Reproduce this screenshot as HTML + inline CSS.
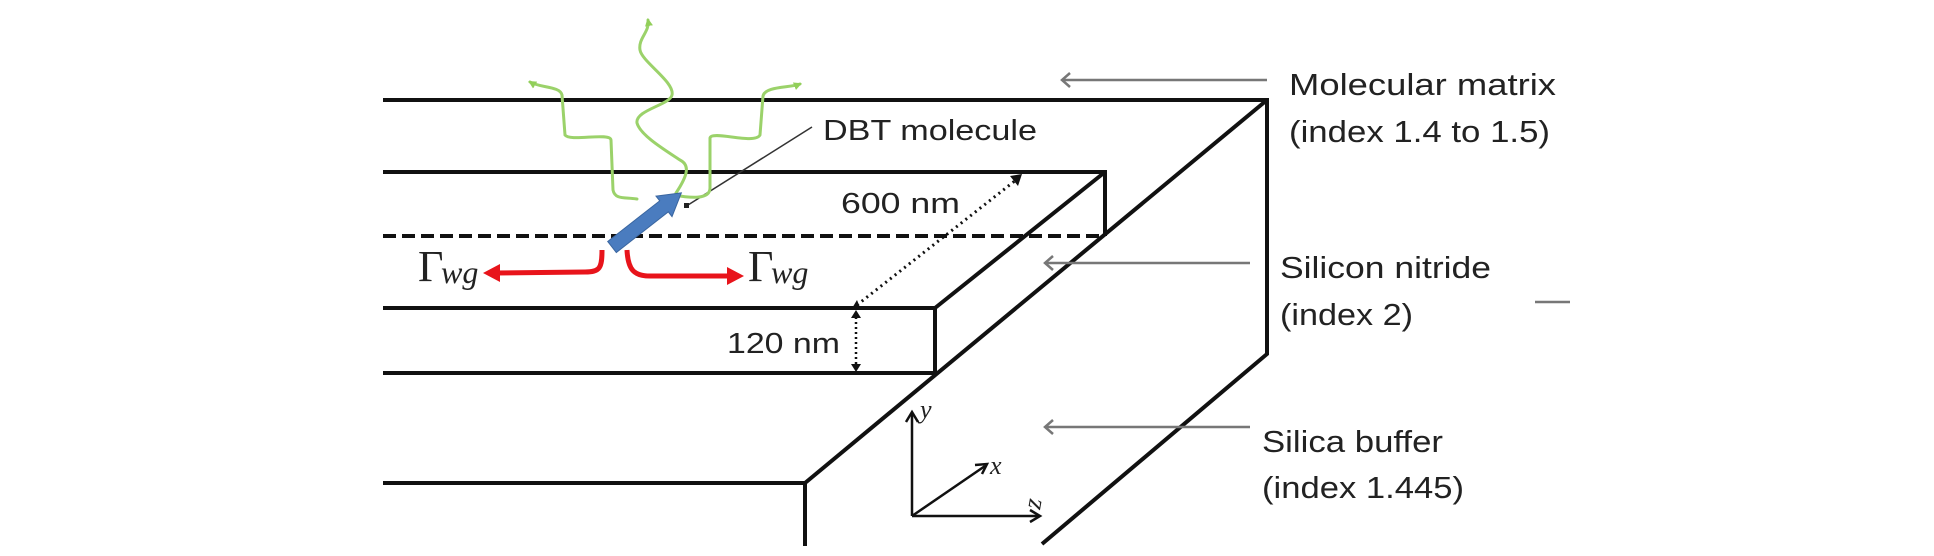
<!DOCTYPE html>
<html><head><meta charset="utf-8"><style>
html,body{margin:0;padding:0;background:#fff;}
svg{display:block;}
text{font-family:"Liberation Sans",sans-serif;fill:#222;}
</style></head><body>
<svg width="1934" height="556" viewBox="0 0 1934 556" xmlns="http://www.w3.org/2000/svg">
<defs>
<marker id="ga" markerWidth="8" markerHeight="8" refX="6" refY="4" orient="auto" markerUnits="userSpaceOnUse"><path d="M0,0 L8,4 L0,8 z" fill="#92cf5a"/></marker>
<marker id="ba" markerWidth="10" markerHeight="10" refX="5" refY="5" orient="auto" markerUnits="userSpaceOnUse"><path d="M0,0 L10,5 L0,10 z" fill="#111"/></marker>
</defs>
<g stroke="#111" stroke-width="4" fill="none" stroke-linejoin="miter">
<!-- top matrix -->
<polyline points="383,100 1267,100 1267,354 1042,544"/>
<line x1="1267" y1="100" x2="805" y2="483"/>
<polyline points="383,483 805,483 805,546"/>
<!-- waveguide -->
<polyline points="383,172 1105,172 1105,236"/>
<line x1="1105" y1="172" x2="935" y2="308"/>
<polyline points="383,308 935,308 935,373"/>
<line x1="383" y1="373" x2="935" y2="373"/>
</g>
<line x1="383" y1="236" x2="1105" y2="236" stroke="#111" stroke-width="4" stroke-dasharray="13,6"/>
<!-- dimension lines -->
<line x1="857" y1="305" x2="1016" y2="180" stroke="#111" stroke-width="3" stroke-dasharray="2,4"/>
<path d="M1010,176 L1022,174 L1018,186 z" fill="#111"/>
<path d="M851,310 L857,300 L861,310 z" fill="#111"/>
<line x1="856" y1="312" x2="856" y2="370" stroke="#111" stroke-width="2.5" stroke-dasharray="2,3"/>
<path d="M851,318 L856,310 L861,318 z M851,364 L856,372 L861,364 z" fill="#111"/>
<!-- label arrows -->
<g stroke="#777" stroke-width="2.5" fill="none">
<line x1="1267" y1="80" x2="1062" y2="80"/><polyline points="1070,73 1062,80 1070,87"/>
<line x1="1250" y1="263" x2="1045" y2="263"/><polyline points="1053,256 1045,263 1053,270"/>
<line x1="1250" y1="427" x2="1045" y2="427"/><polyline points="1053,420 1045,427 1053,434"/>
<line x1="1535" y1="302" x2="1570" y2="302"/>
</g>
<!-- DBT leader -->
<line x1="812" y1="127" x2="688" y2="205" stroke="#333" stroke-width="1.5"/>
<rect x="684" y="203" width="5" height="5" fill="#222"/>
<!-- green waves -->
<g stroke="#9bd26a" stroke-width="3" fill="none" stroke-linecap="round">
<path d="M676,193 C688,175 690,165 680,160 C665,150 640,135 637,123 C635,110 670,105 672,95 C675,82 642,62 640,50 C638,38 650,32 648,20" marker-end="url(#ga)"/>
<path d="M637,199 C625,197 615,200 613,190 L611,140 C610,132 570,142 565,135 L562,95 C560,86 540,88 530,82" marker-end="url(#ga)"/>
<path d="M674,195 C690,198 710,200 710,188 L710,138 C712,130 755,145 760,135 L763,96 C765,86 790,88 800,84" marker-end="url(#ga)"/>
</g>
<!-- blue dipole arrow -->
<g transform="translate(612,247) rotate(-38)">
<path d="M0,-7 L66,-7 L66,-13 L88,0 L66,13 L66,7 L0,7 z" fill="#4a7cbf" stroke="#3a66a0" stroke-width="1"/>
</g>
<!-- red arrows -->
<g stroke="#e8141b" stroke-width="5" fill="none">
<path d="M602,250 C602,268 600,272 585,272 L495,273"/>
<path d="M627,250 C628,270 634,276 650,276 L730,276"/>
</g>
<path d="M483,273 L500,264 L500,282 z" fill="#e8141b"/>
<path d="M744,276 L727,267 L727,285 z" fill="#e8141b"/>
<!-- Gamma labels -->
<text x="418" y="281" style="font-family:'Liberation Serif',serif;font-size:44px;fill:#222">Γ</text>
<text x="441" y="283" style="font-family:'Liberation Serif',serif;font-size:32px;font-style:italic;fill:#222">wg</text>
<text x="748" y="281" style="font-family:'Liberation Serif',serif;font-size:44px;fill:#222">Γ</text>
<text x="771" y="283" style="font-family:'Liberation Serif',serif;font-size:32px;font-style:italic;fill:#222">wg</text>
<!-- text labels -->
<text x="823" y="140" font-size="29" textLength="214" lengthAdjust="spacingAndGlyphs">DBT molecule</text>
<text x="841" y="213" font-size="29" textLength="119" lengthAdjust="spacingAndGlyphs">600 nm</text>
<text x="727" y="353" font-size="29" textLength="113" lengthAdjust="spacingAndGlyphs">120 nm</text>
<text x="1289" y="95" font-size="31" textLength="267" lengthAdjust="spacingAndGlyphs">Molecular matrix</text>
<text x="1289" y="142" font-size="31" textLength="261" lengthAdjust="spacingAndGlyphs">(index 1.4 to 1.5)</text>
<text x="1280" y="278" font-size="31" textLength="211" lengthAdjust="spacingAndGlyphs">Silicon nitride</text>
<text x="1280" y="325" font-size="31" textLength="133" lengthAdjust="spacingAndGlyphs">(index 2)</text>
<text x="1262" y="452" font-size="31" textLength="181" lengthAdjust="spacingAndGlyphs">Silica buffer</text>
<text x="1262" y="498" font-size="31" textLength="202" lengthAdjust="spacingAndGlyphs">(index 1.445)</text>
<!-- axes -->
<g stroke="#111" stroke-width="2.5" fill="none">
<line x1="912" y1="516" x2="912" y2="414"/><polyline points="906,422 912,412 918,422"/>
<line x1="912" y1="516" x2="985" y2="466"/><polyline points="975,465 987,464 982,474"/>
<line x1="912" y1="516" x2="1038" y2="516"/><polyline points="1030,510 1040,516 1030,522"/>
</g>
<text x="920" y="418" style="font-family:'Liberation Serif',serif;font-size:26px;font-style:italic;fill:#222">y</text>
<text x="990" y="474" style="font-family:'Liberation Serif',serif;font-size:26px;font-style:italic;fill:#222">x</text>
<text x="1040" y="510" transform="rotate(-80 1040 510)" style="font-family:'Liberation Serif',serif;font-size:26px;font-style:italic;fill:#222">z</text>
</svg>
</body></html>
